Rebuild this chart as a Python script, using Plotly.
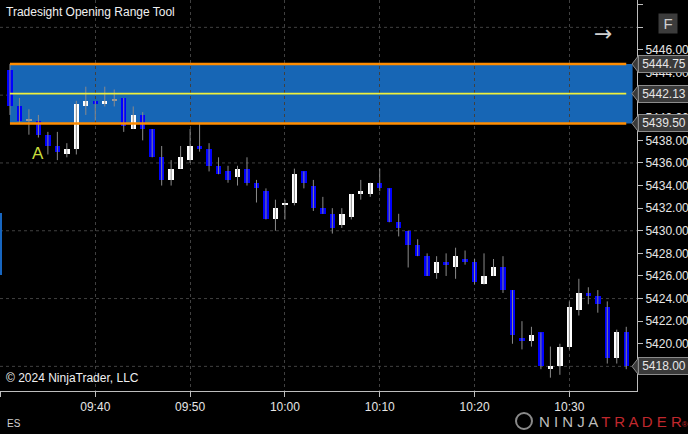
import plotly.graph_objects as go
import pandas as pd

# ---------------- data ----------------
times = pd.date_range("2024-06-03 09:31", periods=66, freq="1min")
opens = [5444.25, 5441.00, 5439.75, 5439.75, 5438.50, 5437.50, 5436.75, 5437.25, 5441.00, 5441.50,
         5441.25, 5441.50, 5441.75, 5439.00, 5440.25, 5439.00, 5436.50, 5434.50, 5435.50, 5436.25,
         5437.50, 5437.25, 5435.75, 5435.25, 5434.75, 5435.50, 5434.25, 5433.50, 5431.00, 5432.25,
         5432.50, 5435.25, 5434.00, 5432.00, 5431.50, 5430.50, 5431.25, 5433.25, 5433.25, 5434.25,
         5433.75, 5430.75, 5430.00, 5428.75, 5427.75, 5426.25, 5427.25, 5426.75, 5427.50, 5427.25,
         5425.25, 5426.00, 5426.75, 5424.75, 5420.50, 5420.25, 5421.00, 5417.75, 5418.00, 5419.75,
         5423.00, 5424.50, 5424.25, 5423.25, 5418.75, 5421.00]
highs = [5444.75, 5441.75, 5440.75, 5440.25, 5438.75, 5438.75, 5437.75, 5441.50, 5442.75, 5441.50,
         5442.75, 5442.50, 5441.75, 5441.00, 5440.50, 5439.00, 5437.50, 5436.25, 5437.50, 5439.00,
         5439.50, 5437.75, 5436.50, 5435.75, 5435.75, 5436.50, 5434.50, 5433.75, 5432.75, 5432.75,
         5435.50, 5435.25, 5434.50, 5433.00, 5432.00, 5432.00, 5433.25, 5434.50, 5434.25, 5435.50,
         5433.75, 5431.50, 5430.00, 5429.25, 5428.00, 5427.75, 5428.00, 5428.50, 5428.25, 5427.50,
         5428.00, 5427.50, 5427.75, 5424.75, 5422.00, 5421.50, 5421.00, 5419.75, 5420.00, 5423.75,
         5425.75, 5425.00, 5424.75, 5423.75, 5421.25, 5421.50]
lows = [5440.25, 5439.50, 5438.50, 5438.25, 5436.75, 5436.25, 5436.50, 5436.75, 5440.25, 5439.75,
        5441.00, 5441.00, 5438.75, 5439.00, 5438.00, 5436.50, 5434.00, 5434.00, 5435.50, 5436.00,
        5437.00, 5435.25, 5435.00, 5434.25, 5434.00, 5434.00, 5432.50, 5431.00, 5430.00, 5431.00,
        5432.25, 5433.75, 5431.75, 5431.50, 5429.75, 5430.25, 5431.00, 5432.75, 5433.00, 5433.50,
        5430.75, 5429.50, 5426.75, 5427.75, 5426.00, 5425.75, 5426.00, 5425.75, 5427.00, 5425.25,
        5425.25, 5426.00, 5424.50, 5420.00, 5419.50, 5419.75, 5417.75, 5417.00, 5417.25, 5419.50,
        5422.50, 5423.50, 5422.75, 5418.25, 5418.25, 5417.75]
closes = [5441.00, 5439.75, 5439.75, 5438.50, 5437.50, 5437.00, 5437.25, 5441.25, 5441.50, 5441.25,
          5441.50, 5441.50, 5439.25, 5440.25, 5439.00, 5436.50, 5434.50, 5435.50, 5436.50, 5437.50,
          5437.25, 5435.75, 5435.00, 5434.50, 5435.50, 5434.25, 5433.75, 5431.00, 5432.00, 5432.50,
          5435.00, 5434.25, 5432.00, 5431.50, 5430.25, 5431.50, 5433.25, 5433.50, 5434.25, 5433.75,
          5430.75, 5430.25, 5428.75, 5427.75, 5426.00, 5427.25, 5427.00, 5427.75, 5427.25, 5425.50,
          5426.00, 5426.75, 5424.75, 5420.75, 5420.25, 5420.75, 5418.00, 5418.00, 5419.75, 5423.25,
          5424.50, 5424.25, 5423.50, 5418.75, 5421.00, 5418.00]

or_high = 5444.75
or_low = 5439.50
or_mid = 5442.13
last_price = 5418.00
marker_levels = [or_high, or_mid, or_low, last_price]
grid_levels = [5418, 5424, 5430, 5436, 5442, 5448]
tick_levels = list(range(5418, 5451, 2))
x_range = ["2024-06-03 09:29:57", "2024-06-03 10:37:08"]
y_range = [5415.82, 5450.42]
line_end = "2024-06-03 10:36:00"
band_end = "2024-06-03 10:36:40"

# ---------------- styles ----------------
BG = "#000000"
UP = "#ffffff"
DOWN = "#0000ff"
DOJI = "#9a9a9a"
WICK = "#8a8a8a"
GRID = "#404040"
AXIS = "#bdbdbd"
TXT = "#e6e6e6"
FONT = "Arial, Liberation Sans, sans-serif"

fig = go.Figure()

# wicks
wx, wy = [], []
for t, h, l in zip(times, highs, lows):
    wx += [t, t, None]
    wy += [l, h, None]
fig.add_trace(go.Scatter(x=wx, y=wy, mode="lines", line=dict(color=WICK, width=1),
                         hoverinfo="skip", showlegend=False))

# bodies
base = [min(o, c) for o, c in zip(opens, closes)]
height = [max(abs(c - o), 0.09) for o, c in zip(opens, closes)]
colors = [UP if c > o else (DOWN if c < o else DOJI) for o, c in zip(opens, closes)]
fig.add_trace(go.Bar(x=times, y=height, base=base, width=34000,
                     marker=dict(color=colors, line=dict(width=0)),
                     showlegend=False, hoverinfo="skip"))

shapes = []
# horizontal grid
for g in grid_levels:
    shapes.append(dict(type="line", xref="paper", yref="y", x0=0, x1=1, y0=g, y1=g,
                       line=dict(color=GRID, width=1, dash="dot"), layer="below"))
# opening range band
shapes.append(dict(type="rect", xref="x", yref="y", x0=times[0], x1=band_end,
                   y0=or_low, y1=or_high, fillcolor="#1766b5", line=dict(width=0), layer="below"))
for lv in (or_high, or_low):
    shapes.append(dict(type="line", xref="x", yref="y", x0=times[0], x1=line_end, y0=lv, y1=lv,
                       line=dict(color="#ff8c00", width=2.5)))
shapes.append(dict(type="line", xref="x", yref="y", x0=times[0], x1=line_end, y0=or_mid, y1=or_mid,
                   line=dict(color="#f0f03c", width=1.8)))

# price marker tips
dy = 0.72
dxp = 5 / 637
for lv in marker_levels:
    shapes.append(dict(type="path", xref="paper", yref="y",
                       path=f"M 1.002,{lv + dy} L {1 - dxp},{lv} L 1.002,{lv - dy} Z",
                       fillcolor="#3a3a3a", line=dict(color="#8c8c8c", width=1)))

# left blue stripe
shapes.append(dict(type="rect", xref="paper", yref="paper", x0=0, x1=2 / 637,
                   y0=1 - 275 / 391, y1=1 - 213 / 391, fillcolor="#1766c0", line=dict(width=0)))
# logo circle
shapes.append(dict(type="circle", xref="paper", yref="paper", x0=516 / 637, x1=532 / 637,
                   y0=(391 - 429) / 391, y1=(391 - 413) / 391,
                   line=dict(color="#8a8a8a", width=2)))

annotations = []
for lv in marker_levels:
    annotations.append(dict(xref="paper", yref="y", x=1.002, y=lv, xanchor="left", yanchor="middle",
                            text=f"{lv:.2f}", showarrow=False, bgcolor="#3a3a3a",
                            bordercolor="#8c8c8c", borderwidth=1, borderpad=1, width=48, height=14,
                            font=dict(family=FONT, size=12, color=TXT)))
annotations += [
    dict(xref="paper", yref="paper", x=4 / 637, y=1 - 12 / 391, xanchor="left", yanchor="middle",
         text="Tradesight Opening Range Tool", showarrow=False,
         font=dict(family=FONT, size=12, color="#f0f0f0")),
    dict(xref="paper", yref="paper", x=4 / 637, y=1 - 378 / 391, xanchor="left", yanchor="middle",
         text="© 2024 NinjaTrader, LLC", showarrow=False,
         font=dict(family=FONT, size=12, color="#f0f0f0")),
    dict(xref="paper", yref="paper", x=5 / 637, y=(391 - 423) / 391, xanchor="left", yanchor="middle",
         text="ES", showarrow=False, font=dict(family=FONT, size=10, color="#d0d0d0")),
    dict(xref="x", yref="y", x=times[3], y=5436.8, text="A", showarrow=False,
         font=dict(family=FONT, size=17, color="#c8dc3c")),
    dict(xref="paper", yref="paper", x=614 / 637, y=1 - 19 / 391, text="→", showarrow=False,
         font=dict(family="DejaVu Sans", size=22, color="#d0d0d0")),
    dict(xref="paper", yref="paper", x=678 / 637, y=1 - 13.5 / 391, text="F", showarrow=False,
         bgcolor="#3c3c3c", width=16, height=17, font=dict(family=FONT, size=15, color="#d0d0d0")),
    dict(xref="paper", yref="paper", x=537 / 637, y=(391 - 421) / 391, xanchor="left", yanchor="middle",
         text="<span style='color:#bdbdbd'>N I N J A </span><span style='color:#c0282d'>T R A D E R</span>"
              "<span style='color:#c0282d;font-size:8px'>®</span>",
         showarrow=False, font=dict(family=FONT, size=15)),
]

fig.update_layout(
    width=688, height=434,
    margin=dict(l=0, r=51, t=0, b=43),
    paper_bgcolor=BG, plot_bgcolor=BG,
    showlegend=False, bargap=0,
    shapes=shapes, annotations=annotations,
    xaxis=dict(type="date", range=x_range, dtick=600000, tickformat="%H:%M",
               tick0="2024-06-03 09:30",
               showgrid=True, gridcolor=GRID, griddash="dot", gridwidth=1,
               showline=True, linecolor=AXIS, linewidth=1,
               ticks="outside", ticklen=5, tickcolor=AXIS,
               tickfont=dict(family=FONT, size=12, color=TXT), zeroline=False, fixedrange=True),
    yaxis=dict(side="right", range=y_range, tickvals=tick_levels,
               ticktext=[("" if v >= 5448 else f"{v:.2f}") for v in tick_levels],
               showgrid=False, showline=True, linecolor=AXIS, linewidth=1,
               ticks="outside", ticklen=5, tickcolor=AXIS,
               tickfont=dict(family=FONT, size=12, color=TXT), zeroline=False, fixedrange=True),
)

fig.write_html(
    "out.html",
    config={"displayModeBar": False},
    post_script="document.body.style.margin='0';document.body.style.overflow='hidden';"
                "document.body.style.background='#000';",
)
